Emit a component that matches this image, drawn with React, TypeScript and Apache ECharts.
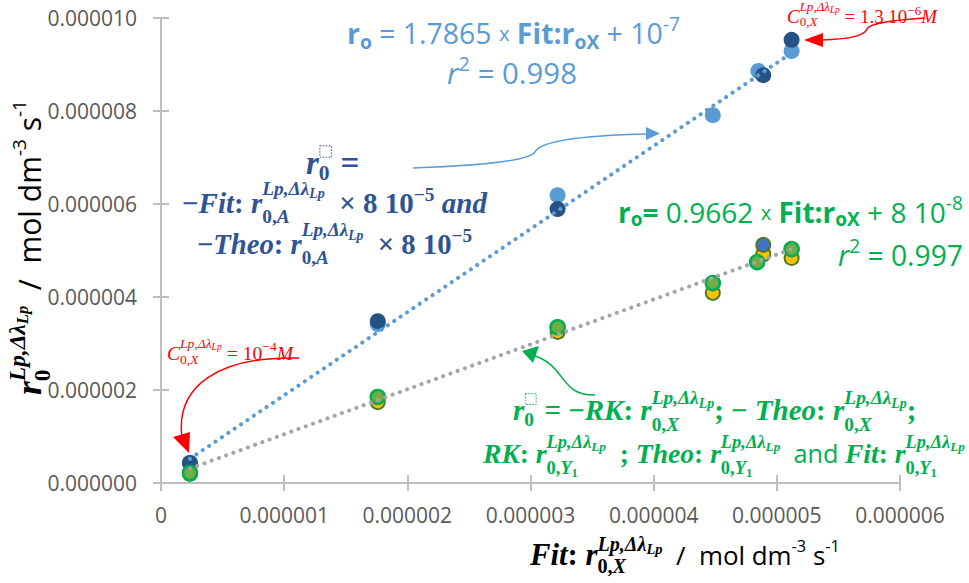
import React, { useEffect, useRef } from "react";
import * as echarts from "echarts";

// ---- data (values in units of 1e-6 mol dm^-3 s^-1) ----
const U = 1e-6;
const xTickValues = [0, 1, 2, 3, 4, 5, 6];
const yTickValues = [0, 2, 4, 6, 8, 10];
const fitA_X = [0.235, 1.76, 3.22, 4.48, 4.85, 5.12];
const fitA_Y = [0.43, 3.42, 6.19, 7.91, 8.86, 9.29];
const theoA_X = [0.235, 1.76, 3.22, 4.89, 5.12];
const theoA_Y = [0.43, 3.48, 5.89, 8.77, 9.53];
const rkX_X = [0.235, 1.76, 3.22, 4.48, 4.89, 5.12];
const rkX_Y = [0.2, 1.74, 3.25, 4.09, 4.92, 4.84];
const fitY1_X = [0.235, 1.76, 3.22, 4.48, 4.89, 5.12];
const fitY1_Y = [0.215, 1.85, 3.35, 4.3, 5.12, 5.03];
const theoX_X = [0.235, 1.76, 3.22, 4.48, 4.84, 5.12];
const theoX_Y = [0.215, 1.85, 3.35, 4.3, 4.75, 5.03];
const blueTrendX = [0.235, 5.12];
const blueTrendY = [0.52, 9.25];
const grayTrendX = [0.235, 5.12];
const grayTrendY = [0.31, 5.03];

const pts = (xs: number[], ys: number[]) => xs.map((x, i) => [x * U, ys[i] * U]);

// ---- text layout helpers ----
const FONTS: Record<string, string> = {
  mb: 'italic bold {s}px "Liberation Serif"',
  mrb: 'bold {s}px "Liberation Serif"',
  mi: 'italic {s}px "Liberation Serif"',
  mr: '{s}px "Liberation Serif"',
  s: '{s}px "Open Sans"',
  sb: 'bold {s}px "Open Sans"',
  si: 'italic {s}px "Open Sans"',
};
let ctx: CanvasRenderingContext2D | null = null;
const fontStr = (f: string, s: number) => FONTS[f].replace("{s}", s.toFixed(2));
const mw = (t: string, f: string, s: number) => {
  if (!ctx) ctx = document.createElement("canvas").getContext("2d");
  ctx!.font = fontStr(f, s);
  return ctx!.measureText(t).width;
};
type Run = { t: string; f: string; s: number; dy: number };
type BoxT = { box: number; dy: number };
type Stk = { up: any[]; down: any[]; uy: number; ly: number };
const R = (t: string, f: string, s: number, dy = 0): Run => ({ t, f, s, dy });
const B = (box: number, dy = 0): BoxT => ({ box, dy });
const S = (up: any[], down: any[], uy: number, ly: number): Stk => ({ up, down, uy, ly });

function seq(items: any[], x0: number, y: number, k: number, color: string, out: any[] | null): number {
  let x = x0;
  for (const it of items) {
    if (it.up) {
      const w1 = seq(it.up, x, y + it.uy * k, k, color, out);
      const w2 = seq(it.down, x, y + it.ly * k, k, color, out);
      x += Math.max(w1, w2);
    } else if (it.box) {
      const b = it.box * k;
      if (out)
        out.push({
          type: "rect",
          shape: { x: x + 1, y: y + it.dy * k - b / 2, width: b, height: b },
          style: { fill: "none", stroke: color, lineWidth: 1, lineDash: [1.5, 1.5] },
        });
      x += b + 2;
    } else {
      const s = it.s * k;
      if (out)
        out.push({
          type: "text",
          x,
          y: y + it.dy * k,
          style: { text: it.t, font: fontStr(it.f, s), fill: color, align: "left", verticalAlign: "middle" },
        });
      x += mw(it.t, it.f, s);
    }
  }
  return x - x0;
}

function line(items: any[], x: number, y: number, w: number, color: string, center = false) {
  const nat = seq(items, 0, 0, 1, color, null);
  const k = w / nat;
  const out: any[] = [];
  seq(items, 0, 0, k, color, out);
  return { type: "group", x: center ? x - w / 2 : x, y, z: 20, silent: true, children: out };
}

const lpSup = (s: number, f = "mb") => [R("Lp,Δλ", f, s), R("Lp", f, s * 0.72, s * 0.28)];

function buildGraphics() {
  const DB = "#2f5496";
  const LB = "#5b9bd5";
  const GR = "#00b050";
  const RED = "#ff0000";
  const els: any[] = [];

  // blue regression equation
  els.push(
    line(
      [R("r", "sb", 28), R("o", "sb", 19, 8), R(" = 1.7865 ", "s", 28), R("x", "s", 20), R(" ", "s", 28),
        R("Fit:r", "sb", 28), R("oX", "sb", 19, 8), R(" + 10", "s", 28), R("-7", "s", 19, -9)],
      347, 33, 333, LB
    )
  );
  els.push(line([R("r", "si", 28), R("2", "s", 19, -9), R(" = 0.998", "s", 28)], 512, 73, 130, LB, true));

  // green regression equation
  els.push(
    line(
      [R("r", "sb", 28), R("o", "sb", 19, 7), R("= ", "sb", 28), R("0.9662 ", "s", 28), R("x", "s", 20), R(" ", "s", 28),
        R("Fit:r", "sb", 28), R("oX", "sb", 19, 7), R(" + 8 10", "s", 28), R("-8", "s", 19, -9)],
      618, 212, 345, GR
    )
  );
  els.push(line([R("r", "si", 28), R("2", "s", 19, -9), R(" = 0.997", "s", 28)], 838, 255, 125, GR));

  // dark blue annotation
  const stA = () => S(lpSup(16), [R("0,", "mrb", 16), R("A", "mb", 16)], -12, 11);
  els.push(line([R("r", "mb", 26), S([B(9)], [R("0", "mrb", 17)], -9, 8), R(" =", "mrb", 26)], 306, 163, 54, DB));
  els.push(
    line(
      [R("−", "mrb", 24), R("Fit", "mb", 24), R(": ", "mrb", 24), R("r", "mb", 24), stA(),
        R("  × 8 10", "mrb", 24), R("−5", "mrb", 16, -7), R(" and", "mb", 24)],
      182, 203, 305, DB
    )
  );
  els.push(
    line(
      [R("−", "mrb", 24), R("Theo", "mb", 24), R(": ", "mrb", 24), R("r", "mb", 24), stA(),
        R("  × 8 10", "mrb", 24), R("−5", "mrb", 16, -7)],
      197, 244, 275, DB
    )
  );

  // green annotation
  const stX = () => S(lpSup(16), [R("0,", "mrb", 16), R("X", "mb", 16)], -10, 12);
  const stY = () => S(lpSup(16), [R("0,", "mrb", 16), R("Y", "mb", 16), R("1", "mrb", 11, 4)], -10, 13);
  els.push(
    line(
      [R("r", "mb", 24), S([B(9)], [R("0", "mrb", 16)], -9, 8), R(" = −", "mrb", 24), R("RK", "mb", 24), R(": ", "mrb", 24),
        R("r", "mb", 24), stX(), R("; − ", "mrb", 24), R("Theo", "mb", 24), R(": ", "mrb", 24), R("r", "mb", 24), stX(),
        R(";", "mrb", 24)],
      513, 410, 404, GR
    )
  );
  els.push(
    line(
      [R("RK", "mb", 24), R(": ", "mrb", 24), R("r", "mb", 24), stY(), R("  ; ", "mrb", 24), R("Theo", "mb", 24),
        R(": ", "mrb", 24), R("r", "mb", 24), stY(), R("  and ", "s", 22), R("Fit", "mb", 24), R(": ", "mrb", 24),
        R("r", "mb", 24), stY()],
      483, 453, 482, GR
    )
  );

  // red annotations
  const stC = () => S(lpSup(11, "mi"), [R("0,", "mr", 11), R("X", "mi", 11)], -8, 5);
  els.push(line([R("C", "mi", 16), stC(), R(" = 1.3 10", "mr", 16), R("−6", "mr", 11, -5), R("M", "mi", 16)], 787, 16, 150, RED));
  els.push(line([R("C", "mi", 16), stC(), R(" = 10", "mr", 16), R("−4", "mr", 11, -5), R("M", "mi", 16)], 167, 353, 126, RED));

  // axis titles
  const unit = [R("  /  mol dm", "s", 27), R("-3", "s", 17, -9), R(" s", "s", 27), R("-1", "s", 17, -9)];
  els.push(
    line(
      [R("Fit", "mb", 32), R(": ", "mrb", 32), R("r", "mb", 32),
        S([R("Lp,Δλ", "mb", 21), R("Lp", "mb", 15, 5)], [R("0,", "mrb", 21), R("X", "mb", 21)], -11, 11), ...unit],
      530, 555, 310, "#000"
    )
  );
  const yt = line(
    [R("r", "mb", 32), S([R("Lp,Δλ", "mb", 21), R("Lp", "mb", 15, 5)], [R("0", "mrb", 21)], -11, 12), ...unit],
    0, 0, 295, "#000"
  );
  els.push({ type: "group", x: 29, y: 395, rotation: Math.PI / 2, z: 20, silent: true, children: [yt] });

  // arrows
  const curve = (x1: number, y1: number, c1x: number, c1y: number, c2x: number, c2y: number, x2: number, y2: number, color: string, w = 1.5) => ({
    type: "bezierCurve",
    z: 20,
    silent: true,
    shape: { x1, y1, cpx1: c1x, cpy1: c1y, cpx2: c2x, cpy2: c2y, x2, y2 },
    style: { stroke: color, lineWidth: w, fill: "none" },
  });
  const tri = (p: number[][], color: string) => ({ type: "polygon", z: 20, silent: true, shape: { points: p }, style: { fill: color } });
  els.push(curve(413, 168, 470, 166, 528, 162, 535, 152, LB));
  els.push(curve(535, 152, 541, 139, 600, 135, 648, 134, LB));
  els.push(tri([[646, 127], [660, 133.5], [646, 140]], LB));

  els.push(curve(925, 18, 900, 20, 870, 22, 867, 29, RED));
  els.push(curve(867, 29, 864, 37, 845, 39, 822, 40, RED));
  els.push(tri([[823, 33], [804, 40], [823, 47]], RED));

  els.push(curve(299, 358, 220, 356, 175, 385, 182, 438, RED));
  els.push(tri([[173, 437], [190, 432], [189, 453]], RED));

  els.push(curve(595, 395, 560, 396, 566, 366, 535, 356, GR));
  els.push(tri([[522, 351], [539, 346], [533, 363]], GR));
  return els;
}

const AXIS_GRAY = "#bfbfbf";
const LABEL_GRAY = "#595959";

export default function App() {
  const ref = useRef<HTMLDivElement>(null);
  useEffect(() => {
    const chart = echarts.init(ref.current!, null, { renderer: "svg" });
    const xLab = (v: number) => (Math.abs(v) < 1e-12 ? "0" : v.toFixed(6));
    const yLab = (v: number) => v.toFixed(6);
    const xMin = xTickValues[0] * U;
    const xMax = xTickValues[xTickValues.length - 1] * U;
    const xInt = (xTickValues[1] - xTickValues[0]) * U;
    const yMin = yTickValues[0] * U;
    const yMax = yTickValues[yTickValues.length - 1] * U;
    const yInt = (yTickValues[1] - yTickValues[0]) * U;
    const labelStyle = { color: LABEL_GRAY, fontSize: 21, fontFamily: "Open Sans" };
    const baseAxis = {
      type: "value",
      splitLine: { show: false },
      axisLine: { show: true, lineStyle: { color: AXIS_GRAY, width: 2 } },
    };
    const option: any = {
      animation: false,
      backgroundColor: "#fff",
      grid: { left: 161, right: 69, top: 18, bottom: 100, containLabel: false },
      xAxis: [
        { ...baseAxis, min: xMin, max: xMax, interval: xInt,
          axisTick: { show: true, length: 8, lineStyle: { color: AXIS_GRAY, width: 2 } },
          axisLabel: { ...labelStyle, margin: 21, formatter: xLab } },
        { ...baseAxis, position: "bottom", min: xMin, max: xMax, interval: xInt,
          axisTick: { show: true, inside: true, length: 8, lineStyle: { color: AXIS_GRAY, width: 2 } },
          axisLabel: { show: false } },
      ],
      yAxis: [
        { ...baseAxis, min: yMin, max: yMax, interval: yInt,
          axisTick: { show: true, length: 8, lineStyle: { color: AXIS_GRAY, width: 2 } },
          axisLabel: { ...labelStyle, margin: 24, formatter: yLab } },
        { ...baseAxis, position: "left", min: yMin, max: yMax, interval: yInt,
          axisTick: { show: true, inside: true, length: 8, lineStyle: { color: AXIS_GRAY, width: 2 } },
          axisLabel: { show: false } },
      ],
      series: [
        { name: "Fit: r0,A × 8 10^-5", type: "scatter", symbolSize: 16, data: pts(fitA_X, fitA_Y),
          itemStyle: { color: "#5b9bd5", opacity: 1 } },
        { name: "Theo: r0,A × 8 10^-5", type: "scatter", symbolSize: 16, data: pts(theoA_X, theoA_Y),
          itemStyle: { color: "#245284", opacity: 1 } },
        { name: "RK: r0,X", type: "scatter", symbolSize: 14, data: pts(rkX_X, rkX_Y),
          itemStyle: { color: "#ffc000", borderColor: "#4f7a28", borderWidth: 2, opacity: 1 } },
        { name: "Fit: r0,Y1", type: "scatter", symbolSize: 14, data: pts(fitY1_X, fitY1_Y),
          itemStyle: { color: "#4472c4", borderColor: "#4f7a28", borderWidth: 2, opacity: 1 } },
        { name: "Theo: r0,X", type: "scatter", symbolSize: 14, data: pts(theoX_X, theoX_Y),
          itemStyle: { color: "#70ad47", borderColor: "#00b050", borderWidth: 2.5, opacity: 1 } },
        { name: "trend blue", type: "line", symbol: "none", data: pts(blueTrendX, blueTrendY), z: 5,
          lineStyle: { color: "#5b9bd5", width: 4, type: [0.1, 7.6], cap: "round" } },
        { name: "trend gray", type: "line", symbol: "none", data: pts(grayTrendX, grayTrendY), z: 5,
          lineStyle: { color: "#a5a5a5", width: 4, type: [0.1, 7.6], cap: "round" } },
      ],
      graphic: { elements: buildGraphics() },
    };
    chart.setOption(option);
    return () => chart.dispose();
  }, []);
  return <div ref={ref} style={{ position: "fixed", left: 0, top: 0, width: 969, height: 583 }} />;
}
